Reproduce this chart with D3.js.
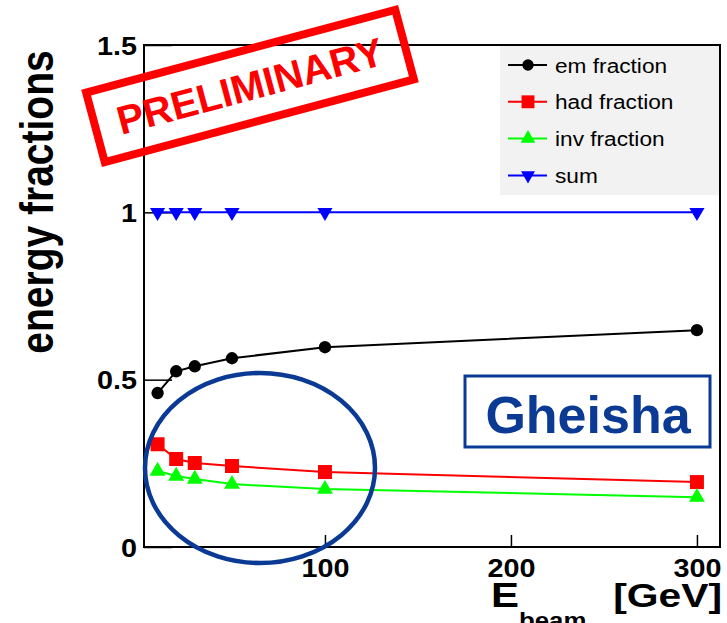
<!DOCTYPE html>
<html>
<head>
<meta charset="utf-8">
<script src="https://cdn.jsdelivr.net/npm/d3@7"></script>
<style>
body { margin: 0; background: #fff; }
text { font-family: "Liberation Sans", Arial, sans-serif; }
</style>
</head>
<body>
<script>
var energies = [10, 20, 30, 50, 100, 300];
var emFraction = [0.46, 0.525, 0.54, 0.564, 0.597, 0.648];
var hadFraction = [0.307, 0.263, 0.251, 0.242, 0.224, 0.194];
var invFraction = [0.227, 0.212, 0.203, 0.188, 0.173, 0.149];
var sumFraction = [1, 1, 1, 1, 1, 1];
var seriesNames = ["em fraction", "had fraction", "inv fraction", "sum"];
var seriesColors = ["#000000", "#ff0000", "#00ff00", "#0000ff"];
var xTicks = [100, 200, 300];
var yTicks = [0, 0.5, 1, 1.5];

var width = 727, height = 623;
// note: "top" is taken by window.top, so plot* names
var plotLeft = 144, plotRight = 720, plotTop = 45, plotBottom = 547;
var stretch = 1.2; // text in the original looks squeezed wider
var tickStretch = 1.15;

var svg = d3.select("body").append("svg")
    .attr("width", width)
    .attr("height", height);

var x = d3.scaleLinear().domain([2.7, 312.4]).range([plotLeft, plotRight]);
var y = d3.scaleLinear().domain([0, 1.5]).range([plotBottom, plotTop]);

// legend background first, frame line goes over it
svg.append("rect")
    .attr("x", 500).attr("y", plotTop)
    .attr("width", plotRight - 500).attr("height", 150)
    .attr("fill", "#f2f2f2");

// y axis ticks
var yAxis = svg.append("g")
    .attr("transform", "translate(" + plotLeft + ",0)")
    .call(d3.axisLeft(y).tickValues(yTicks).tickSize(-28).tickPadding(8).tickFormat(d3.format("")));
yAxis.select(".domain").remove();
yAxis.selectAll("line").attr("stroke-width", 1.5);
yAxis.selectAll("text")
    .attr("font-size", 25).attr("font-weight", "bold").attr("fill", "#000")
    .attr("x", -7 / tickStretch)
    .attr("dy", "0.36em")
    .attr("transform", "scale(" + tickStretch + ",1)");

// x axis ticks
var xAxis = svg.append("g")
    .attr("transform", "translate(0," + plotBottom + ")")
    .call(d3.axisBottom(x).tickValues(xTicks).tickSize(-12).tickPadding(12).tickFormat(d3.format("")));
xAxis.select(".domain").remove();
xAxis.selectAll("line").attr("stroke-width", 1.5);
xAxis.selectAll("text")
    .attr("font-size", 25).attr("font-weight", "bold").attr("fill", "#000")
    .attr("transform", "scale(" + tickStretch + ",1)")
    .attr("dy", "0.71em");

// frame
svg.append("path")
    .attr("d", "M" + plotLeft + "," + plotTop + "H" + plotRight + "V" + plotBottom + "H" + plotLeft + "Z")
    .attr("fill", "none")
    .attr("stroke", "#000")
    .attr("stroke-width", 2);

var series = [emFraction, hadFraction, invFraction, sumFraction];
var symbols = [d3.symbolCircle, d3.symbolSquare, d3.symbolTriangle, d3.symbolTriangle];
var symSizes = [120, 196, 110, 100];
var symRotate = [0, 0, 0, 180];

var line = d3.line()
    .x(function(d) { return x(d[0]); })
    .y(function(d) { return y(d[1]); });

series.forEach(function(vals, i) {
    var pts = energies.map(function(e, j) { return [e, vals[j]]; });
    svg.append("path")
        .datum(pts)
        .attr("d", line)
        .attr("fill", "none")
        .attr("stroke", seriesColors[i])
        .attr("stroke-width", 2);
    svg.selectAll(".m" + i)
        .data(pts)
        .enter().append("path")
        .attr("class", "m" + i)
        .attr("d", d3.symbol().type(symbols[i]).size(symSizes[i]))
        .attr("transform", function(d) {
            return "translate(" + x(d[0]) + "," + y(d[1]) + ") rotate(" + symRotate[i] + ")";
        })
        .attr("fill", seriesColors[i]);
});

// legend
var leg = svg.selectAll(".leg")
    .data(seriesNames)
    .enter().append("g")
    .attr("class", "leg")
    .attr("transform", function(d, i) { return "translate(0," + (65 + i * 36.8) + ")"; });
leg.append("line")
    .attr("x1", 508).attr("x2", 547)
    .attr("stroke", function(d, i) { return seriesColors[i]; })
    .attr("stroke-width", 2);
leg.append("path")
    .attr("d", function(d, i) { return d3.symbol().type(symbols[i]).size(symSizes[i] * 0.85)(); })
    .attr("transform", function(d, i) { return "translate(528,0) rotate(" + symRotate[i] + ")"; })
    .attr("fill", function(d, i) { return seriesColors[i]; });
leg.append("text")
    .attr("transform", "translate(555,0) scale(1.08,1)")
    .attr("dy", "0.36em")
    .attr("font-size", 21)
    .text(function(d) { return d; });

// axis titles
svg.append("text")
    .attr("transform", "translate(53,202) scale(" + stretch + ",1) rotate(-90)")
    .attr("text-anchor", "middle")
    .attr("font-size", 39)
    .attr("font-weight", "bold")
    .text("energy fractions");

var xt = svg.append("text")
    .attr("transform", "translate(491,607) scale(" + stretch + ",1)")
    .attr("font-weight", "bold");
xt.append("tspan").attr("font-size", 35).text("E");
xt.append("tspan").attr("font-size", 21.5).attr("dy", 21).text("beam");
svg.append("text")
    .attr("transform", "translate(722,607) scale(" + stretch + ",1)")
    .attr("text-anchor", "end")
    .attr("font-size", 34)
    .attr("font-weight", "bold")
    .text("[GeV]");

// Gheisha label
var navy = "#0a3a94";
svg.append("rect")
    .attr("x", 465).attr("y", 376)
    .attr("width", 245).attr("height", 71)
    .attr("fill", "#fff")
    .attr("stroke", navy)
    .attr("stroke-width", 3);
svg.append("text")
    .attr("x", 588).attr("y", 433)
    .attr("text-anchor", "middle")
    .attr("font-size", 52)
    .attr("font-weight", "bold")
    .attr("fill", navy)
    .text("Gheisha");

// circled region
svg.append("ellipse")
    .attr("cx", 260).attr("cy", 468)
    .attr("rx", 115).attr("ry", 95)
    .attr("fill", "none")
    .attr("stroke", navy)
    .attr("stroke-width", 4.5);

// preliminary stamp
var stamp = svg.append("g")
    .attr("transform", "translate(250,86) rotate(-15)");
stamp.append("rect")
    .attr("x", -160).attr("y", -36)
    .attr("width", 320).attr("height", 72)
    .attr("fill", "none")
    .attr("stroke", "#ff0000")
    .attr("stroke-width", 8);
stamp.append("text")
    .attr("y", 14)
    .attr("text-anchor", "middle")
    .attr("font-size", 40)
    .attr("font-weight", "bold")
    .attr("fill", "#ff0000")
    .text("PRELIMINARY");
</script>
</body>
</html>
